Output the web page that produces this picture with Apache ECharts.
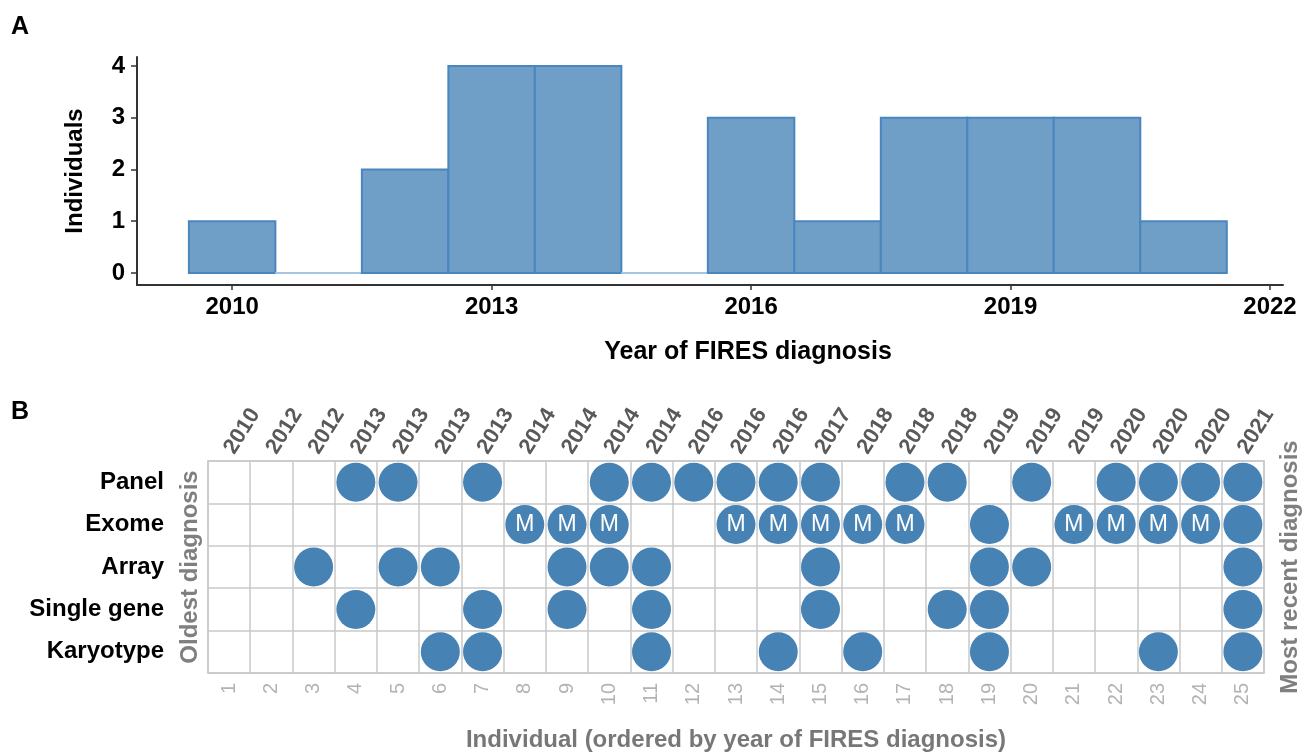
<!DOCTYPE html>
<html>
<head>
<meta charset="utf-8">
<title>FIRES diagnosis and genetic testing</title>
<script src="https://cdn.jsdelivr.net/npm/echarts@6/dist/echarts.min.js"></script>
<style>
  html, body { margin: 0; padding: 0; background: #fff; }
  #chart { width: 1314px; height: 754px; }
</style>
</head>
<body>
<div id="chart"></div>
<script>
// panel A: individuals per year of FIRES diagnosis
const histYears = [2010, 2011, 2012, 2013, 2014, 2015, 2016, 2017, 2018, 2019, 2020, 2021];
const histCounts = [1, 0, 2, 4, 4, 0, 3, 1, 3, 3, 3, 1];
const yearTicks = [2010, 2013, 2016, 2019, 2022];
const countTicks = [0, 1, 2, 3, 4];

// panel B: tests done per individual (individual numbers, 1-based)
const individuals = ['1', '2', '3', '4', '5', '6', '7', '8', '9', '10', '11', '12', '13',
  '14', '15', '16', '17', '18', '19', '20', '21', '22', '23', '24', '25'];
const diagnosisYears = ['2010', '2012', '2012', '2013', '2013', '2013', '2013', '2014', '2014',
  '2014', '2014', '2016', '2016', '2016', '2017', '2018', '2018', '2018', '2019', '2019',
  '2019', '2020', '2020', '2020', '2021'];
const testTypes = ['Panel', 'Exome', 'Array', 'Single gene', 'Karyotype'];
const panelDone = [4, 5, 7, 10, 11, 12, 13, 14, 15, 17, 18, 20, 22, 23, 24, 25];
const exomeDone = [8, 9, 10, 13, 14, 15, 16, 17, 19, 21, 22, 23, 24, 25];
const exomeMarked = [8, 9, 10, 13, 14, 15, 16, 17, 21, 22, 23, 24]; // shown with "M"
const arrayDone = [3, 5, 6, 9, 10, 11, 15, 19, 20, 25];
const singleGeneDone = [4, 7, 9, 11, 15, 18, 19, 25];
const karyotypeDone = [6, 7, 11, 14, 16, 19, 23, 25];

const FONT = '"Liberation Sans", Arial, sans-serif';
const DOT_BLUE = '#4682b4';
const GRID_GRAY = '#c9c9c9';

const testRows = [panelDone, exomeDone, arrayDone, singleGeneDone, karyotypeDone];
const dotData = [];
testRows.forEach((cols, row) => {
  cols.forEach((ind) => {
    const marked = row === 1 && exomeMarked.includes(ind);
    dotData.push({
      value: [ind - 1, row],
      label: { show: marked }
    });
  });
});

const histData = histYears.map((y, i) => [y, histCounts[i]]);

function renderBin(params, api) {
  const year = api.value(0);
  const count = api.value(1);
  const tl = api.coord([year - 0.5, count]);
  const br = api.coord([year + 0.5, 0]);
  if (count === 0) {
    return {
      type: 'line',
      shape: { x1: tl[0], y1: br[1], x2: br[0], y2: br[1] },
      style: { stroke: '#a6c6e3', lineWidth: 2 }
    };
  }
  return {
    type: 'rect',
    shape: { x: tl[0], y: tl[1], width: br[0] - tl[0], height: br[1] - tl[1] },
    style: { fill: '#6f9ec7', stroke: '#4a86be', lineWidth: 2 }
  };
}

const chart = echarts.init(document.getElementById('chart'));

const options = {
  animation: false,
  textStyle: { fontFamily: FONT },
  grid: [
    { left: 137, right: 31, top: 57, height: 228, outerBoundsMode: 'none' },
    { left: 208, right: 50, top: 461, height: 212, outerBoundsMode: 'none' }
  ],
  xAxis: [
    {
      gridIndex: 0,
      type: 'value',
      min: 2008.9,
      max: 2022.15,
      splitLine: { show: false },
      axisLine: { show: true, onZero: false, lineStyle: { color: '#333', width: 2 } },
      axisTick: { show: true, customValues: yearTicks, length: 5, lineStyle: { color: '#333', width: 1.5 } },
      axisLabel: {
        customValues: yearTicks,
        formatter: (v) => String(v),
        color: '#000', fontWeight: 'bold', fontSize: 24, margin: 10
      }
    },
    {
      gridIndex: 1,
      type: 'category',
      position: 'bottom',
      data: individuals,
      axisLine: { show: true, lineStyle: { color: GRID_GRAY, width: 1.5 } },
      axisTick: { show: false },
      splitLine: { show: true, lineStyle: { color: GRID_GRAY, width: 1.5 } },
      axisLabel: { rotate: 90, color: '#b3b3b3', fontSize: 20, margin: 10, interval: 0 },
      name: 'Individual (ordered by year of FIRES diagnosis)',
      nameLocation: 'middle',
      nameGap: 55,
      nameMoveOverlap: false,
      nameTextStyle: { color: '#777', fontWeight: 'bold', fontSize: 24 }
    },
    {
      gridIndex: 1,
      type: 'category',
      position: 'top',
      data: diagnosisYears,
      axisLine: { show: true, lineStyle: { color: GRID_GRAY, width: 1.5 } },
      axisTick: { show: false },
      axisLabel: { rotate: -58, color: '#595959', fontWeight: 'bold', fontSize: 22, margin: 9, interval: 0 }
    }
  ],
  yAxis: [
    {
      gridIndex: 0,
      type: 'value',
      min: -0.232,
      max: 4.174,
      splitLine: { show: false },
      axisLine: { show: true, onZero: false, lineStyle: { color: '#333', width: 2 } },
      axisTick: { show: true, customValues: countTicks, length: 6, lineStyle: { color: '#333', width: 1.5 } },
      axisLabel: {
        customValues: countTicks,
        color: '#000', fontWeight: 'bold', fontSize: 24, margin: 12
      },
      name: 'Individuals',
      nameLocation: 'middle',
      nameRotate: 90,
      nameGap: 50,
      nameMoveOverlap: false,
      nameTextStyle: { color: '#000', fontWeight: 'bold', fontSize: 24 }
    },
    {
      gridIndex: 1,
      type: 'category',
      position: 'left',
      inverse: true,
      data: testTypes,
      axisLine: { show: true, lineStyle: { color: GRID_GRAY, width: 1.5 } },
      axisTick: { show: false },
      splitLine: { show: true, lineStyle: { color: GRID_GRAY, width: 1.5 } },
      axisLabel: { color: '#000', fontWeight: 'bold', fontSize: 24, margin: 44 },
      name: 'Oldest diagnosis',
      nameLocation: 'middle',
      nameRotate: 90,
      nameGap: 6,
      nameMoveOverlap: false,
      nameTextStyle: { color: '#7f7f7f', fontWeight: 'bold', fontSize: 24 }
    },
    {
      gridIndex: 1,
      type: 'category',
      position: 'right',
      inverse: true,
      data: testTypes,
      axisLine: { show: true, lineStyle: { color: GRID_GRAY, width: 1.5 } },
      axisTick: { show: false },
      axisLabel: { show: false },
      name: 'Most recent diagnosis',
      nameLocation: 'middle',
      nameRotate: 90,
      nameGap: 14,
      nameMoveOverlap: false,
      nameTextStyle: { color: '#7f7f7f', fontWeight: 'bold', fontSize: 24 }
    }
  ],
  graphic: [
    { type: 'text', left: 11, top: 15, style: { text: 'A', fontFamily: FONT, fontWeight: 'bold', fontSize: 25, fill: '#000' } },
    { type: 'text', left: 11, top: 400, style: { text: 'B', fontFamily: FONT, fontWeight: 'bold', fontSize: 25, fill: '#000' } },
    {
      type: 'text', x: 748, y: 352,
      style: {
        text: 'Year of FIRES diagnosis', fontFamily: FONT, fontWeight: 'bold', fontSize: 25,
        fill: '#000', align: 'center', verticalAlign: 'middle'
      }
    }
  ],
  series: [
    {
      type: 'custom',
      xAxisIndex: 0,
      yAxisIndex: 0,
      renderItem: renderBin,
      encode: { x: 0, y: 1 },
      data: histData
    },
    {
      type: 'scatter',
      xAxisIndex: 1,
      yAxisIndex: 1,
      symbol: 'circle',
      symbolSize: 39,
      itemStyle: { color: DOT_BLUE, opacity: 1 },
      label: {
        position: 'inside',
        formatter: 'M',
        color: '#fff',
        fontSize: 23,
        fontFamily: FONT
      },
      emphasis: { disabled: true },
      data: dotData
    }
  ]
};

options && chart.setOption(options);
</script>
</body>
</html>
